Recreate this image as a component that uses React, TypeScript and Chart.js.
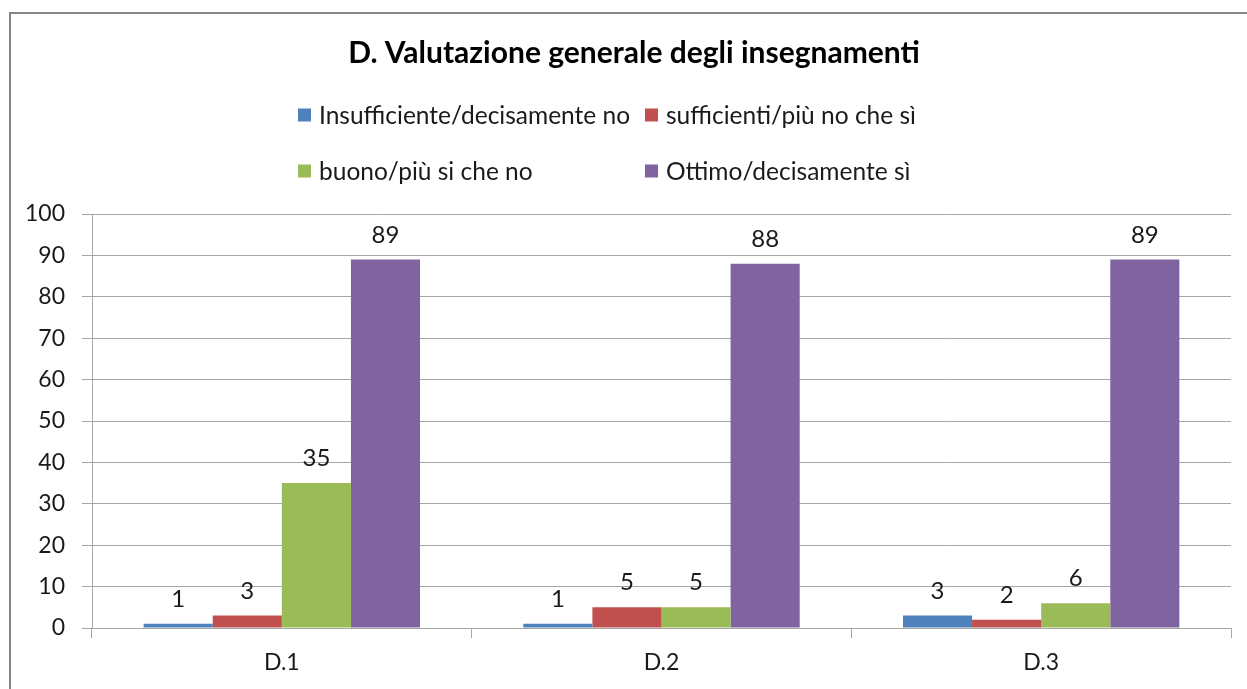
import React, { useEffect, useRef } from "react";
import { Chart, registerables } from "chart.js";

Chart.register(...registerables);

const chartTitle = "D. Valutazione generale degli insegnamenti";
const categories = ["D.1", "D.2", "D.3"];
const seriesLabels = [
  "Insufficiente/decisamente no",
  "sufficienti/più no che sì",
  "buono/più si che no",
  "Ottimo/decisamente sì",
];
const insufficiente = [1, 1, 3];
const sufficienti = [3, 5, 2];
const buono = [35, 5, 6];
const ottimo = [89, 88, 89];
const seriesColors = ["#4F81BD", "#C0504D", "#9BBB59", "#8064A2"];
const yMin = 0;
const yMax = 100;
const yStep = 10;

const FONT = "Lato, 'Open Sans', sans-serif";

const borderPlugin = {
  id: "outerBorder",
  beforeDraw(chart: any) {
    const ctx = chart.ctx;
    ctx.save();
    ctx.fillStyle = "#ffffff";
    ctx.fillRect(0, 0, chart.width, chart.height);
    ctx.strokeStyle = "#868686";
    ctx.lineWidth = 2;
    ctx.strokeRect(10, 13, chart.width + 20, chart.height + 20);
    ctx.restore();
  },
};

const titleLegendPlugin = {
  id: "titleAndGridLegend",
  afterDraw(chart: any) {
    const ctx = chart.ctx;
    ctx.save();
    // title
    ctx.font = `bold 30px ${FONT}`;
    ctx.fillStyle = "#000000";
    ctx.textAlign = "center";
    ctx.textBaseline = "middle";
    ctx.fillText(chartTitle, 634, 53);
    // legend in two columns
    const colX = [298, 645];
    const rowY = [115, 171];
    const box = 13;
    ctx.font = `24.5px ${FONT}`;
    ctx.textBaseline = "middle";
    ctx.textAlign = "left";
    chart.data.datasets.forEach((ds: any, i: number) => {
      const x = colX[i % 2];
      const y = rowY[Math.floor(i / 2)];
      ctx.fillStyle = ds.backgroundColor;
      ctx.fillRect(x, y - box / 2, box, box);
      ctx.fillStyle = "#1a1a1a";
      ctx.fillText(ds.label, x + box + 8, y + 1);
    });
    ctx.restore();
  },
};

const dataLabelPlugin = {
  id: "barValueLabels",
  afterDatasetsDraw(chart: any) {
    const ctx = chart.ctx;
    ctx.save();
    ctx.font = `24px ${FONT}`;
    ctx.fillStyle = "#1a1a1a";
    ctx.textAlign = "center";
    ctx.textBaseline = "alphabetic";
    chart.data.datasets.forEach((ds: any, di: number) => {
      const meta = chart.getDatasetMeta(di);
      meta.data.forEach((el: any, i: number) => {
        ctx.fillText(String(ds.data[i]), el.x, el.y - 17);
      });
    });
    ctx.restore();
  },
};

export default function App() {
  const ref = useRef<HTMLCanvasElement | null>(null);

  useEffect(() => {
    if (!ref.current) return;
    const seriesData = [insufficiente, sufficienti, buono, ottimo];
    const chart = new Chart(ref.current, {
      type: "bar",
      data: {
        labels: categories,
        datasets: seriesLabels.map((label, i) => ({
          label,
          data: seriesData[i],
          backgroundColor: seriesColors[i],
          borderWidth: 0,
          categoryPercentage: 0.728,
          barPercentage: 1,
        })),
      },
      options: {
        animation: false,
        responsive: false,
        maintainAspectRatio: false,
        layout: { padding: { left: 0, right: 16, top: 214, bottom: 0 } },
        plugins: {
          legend: { display: false },
          tooltip: { enabled: false },
          title: { display: false },
        },
        scales: {
          x: {
            grid: {
              display: true,
              drawOnChartArea: false,
              drawTicks: true,
              tickLength: 10,
              offset: true,
              color: "#a6a6a6",
            },
            border: { display: true, color: "#a6a6a6", width: 1 },
            ticks: {
              color: "#1a1a1a",
              font: { family: FONT, size: 23 },
              padding: 11,
            },
            afterFit(scale: any) {
              scale.height = 61;
            },
          },
          y: {
            min: yMin,
            max: yMax,
            ticks: {
              stepSize: yStep,
              color: "#1a1a1a",
              font: { family: FONT, size: 23 },
              padding: 17,
            },
            grid: {
              color: "#a6a6a6",
              drawTicks: true,
              tickLength: 10,
            },
            border: { display: true, color: "#a6a6a6", width: 1 },
            afterFit(scale: any) {
              scale.width = 92;
            },
          },
        },
      },
      plugins: [borderPlugin, titleLegendPlugin, dataLabelPlugin],
    });
    return () => chart.destroy();
  }, []);

  return (
    <div style={{ position: "fixed", left: 0, top: 0, width: 1247, height: 689, background: "#fff" }}>
      <canvas ref={ref} width={1247} height={689} style={{ display: "block", width: 1247, height: 689 }} />
    </div>
  );
}
